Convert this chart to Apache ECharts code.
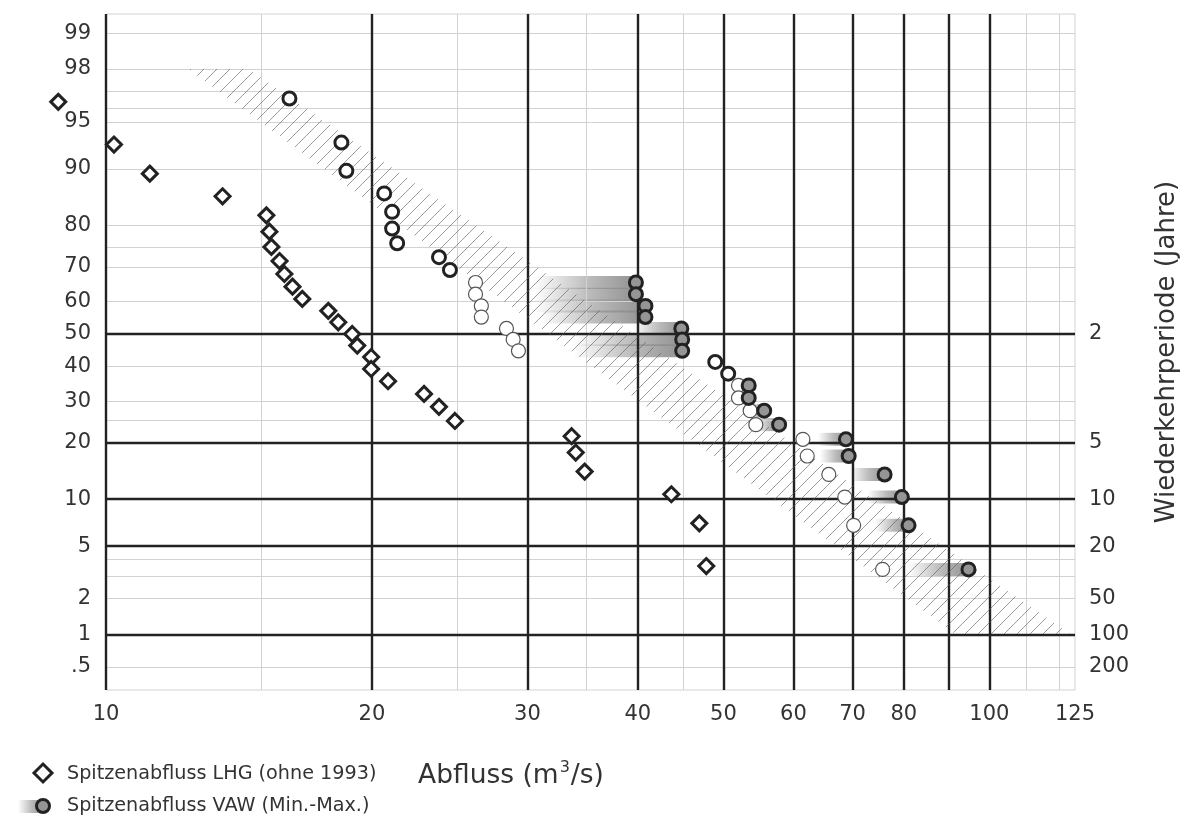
<!DOCTYPE html>
<html><head><meta charset="utf-8">
<script src="https://cdn.jsdelivr.net/npm/echarts@6/dist/echarts.min.js"></script>
<style>html,body{margin:0;padding:0;background:#fff}#c{width:1188px;height:825px}</style>
</head><body><div id="c"></div>
<script>
// ---- tick labels & grid values ----
const xTickLabels = [10, 20, 30, 40, 50, 60, 70, 80, 100, 125];
const xMajorGrid = [10, 20, 30, 40, 50, 60, 70, 80, 90, 100];
const xMinorGrid = [15, 25, 35, 45, 110, 120];
const yLeftTickValues = [99, 98, 95, 90, 80, 70, 60, 50, 40, 30, 20, 10, 5, 2, 1, 0.5];
const yLeftTickLabels = ['99', '98', '95', '90', '80', '70', '60', '50', '40', '30', '20', '10', '5', '2', '1', '.5'];
const yRightTickValues = [2, 5, 10, 20, 50, 100, 200];      // return period (years)
const yRightTickLabels = ['2', '5', '10', '20', '50', '100', '200'];
const yMajorGrid = [50, 20, 10, 5, 1];
const yMinorGrid = [99, 98, 97, 96, 95, 90, 80, 75, 70, 60, 40, 30, 25, 4, 3, 2, 0.5];

// ---- Spitzenabfluss LHG (ohne 1993): discharge m3/s, exceedance % ----
const lhgQ = [8.83, 10.21, 11.21, 13.55, 15.19, 15.31, 15.39, 15.72, 15.92, 16.26, 16.68, 17.85, 18.32, 19.00,
  19.25, 19.96, 19.96, 20.86, 22.91, 23.82, 24.83, 33.66, 34.02, 34.82, 43.65, 46.95, 47.81];
const lhgP = [96.4, 92.9, 89.3, 85.7, 82.1, 78.6, 75.0, 71.4, 67.9, 64.3, 60.7, 57.1, 53.6, 50.0,
  46.4, 42.9, 39.3, 35.7, 32.1, 28.6, 25.0, 21.4, 17.9, 14.3, 10.7, 7.1, 3.6];

// ---- open circles (single values) ----
const openQ = [16.13, 18.47, 18.71, 20.65, 21.08, 21.08, 21.36, 23.82, 24.51, 48.94, 50.62];
const openP = [96.6, 93.1, 89.7, 86.2, 82.8, 79.3, 75.9, 72.4, 69.0, 41.4, 37.9];

// ---- VAW (min-max) levels ----
const vawP    = [65.5, 62.1, 58.6, 55.2, 51.7, 48.3, 44.8, 34.5, 31.0, 27.6, 24.1, 20.7, 17.2, 13.8, 10.3, 6.9, 3.4];
const lightQ  = [26.2, 26.2, 26.6, 26.6, 28.4, 28.9, 29.3, 52.0, 52.0, 53.6, 54.4, 61.5, 62.2, 65.8, 68.6, 70.2, 75.7];
const vawMinQ = [30.5, 30.5, 30.5, 31.0, 39.5, 33.8, 33.8, 52.0, 52.0, 53.6, 54.4, 64.0, 64.3, 69.5, 72.8, 74.2, 80.8];
const vawMaxQ = [39.8, 39.8, 40.8, 40.8, 44.8, 44.9, 44.9, 53.4, 53.4, 55.6, 57.8, 68.8, 69.3, 76.1, 79.6, 81.0, 94.7];

// ---- hatched band (corner points) ----
const bandQ = [12.4, 14.5, 123.4, 91.5];
const bandP = [98, 98, 1, 1];

// inverse standard normal (probability paper scale)
function invNorm(p) {
  const a = [-3.969683028665376e+01, 2.209460984245205e+02, -2.759285104469687e+02, 1.383577518672690e+02, -3.066479806614716e+01, 2.506628277459239e+00];
  const b = [-5.447609879822406e+01, 1.615858368580409e+02, -1.556989798598866e+02, 6.680131188771972e+01, -1.328068155288572e+01];
  const c = [-7.784894002430293e-03, -3.223964580411365e-01, -2.400758277161838e+00, -2.549732539343734e+00, 4.374664141464968e+00, 2.938163982698783e+00];
  const d = [7.784695709041462e-03, 3.224671290700398e-01, 2.445134137142996e+00, 3.754408661907416e+00];
  const pl = 0.02425, ph = 1 - pl;
  let q, r;
  if (p < pl) { q = Math.sqrt(-2 * Math.log(p)); return (((((c[0]*q+c[1])*q+c[2])*q+c[3])*q+c[4])*q+c[5]) / ((((d[0]*q+d[1])*q+d[2])*q+d[3])*q+1); }
  if (p <= ph) { q = p - 0.5; r = q*q; return (((((a[0]*r+a[1])*r+a[2])*r+a[3])*r+a[4])*r+a[5])*q / (((((b[0]*r+b[1])*r+b[2])*r+b[3])*r+b[4])*r+1); }
  q = Math.sqrt(-2 * Math.log(1 - p));
  return -(((((c[0]*q+c[1])*q+c[2])*q+c[3])*q+c[4])*q+c[5]) / ((((d[0]*q+d[1])*q+d[2])*q+d[3])*q+1);
}
const U = pct => invNorm(pct / 100);

const FONT = 'DejaVu Sans';
const TXT = '#333';
const leftU = yLeftTickValues.map(U);
const rightU = yRightTickValues.map(T => U(100 / T));
function lookup(v, us, labels) {
  for (let i = 0; i < us.length; i++) if (Math.abs(us[i] - v) < 1e-6) return labels[i];
  return '';
}

// hatch pattern
const tile = 13;
const pc = document.createElement('canvas');
pc.width = tile; pc.height = tile;
const g = pc.getContext('2d');
g.strokeStyle = 'rgba(90,90,90,0.6)';
g.lineWidth = 1;
g.beginPath();
g.moveTo(0, tile); g.lineTo(tile, 0);
g.moveTo(-tile / 2, tile / 2); g.lineTo(tile / 2, -tile / 2);
g.moveTo(tile / 2, tile * 1.5); g.lineTo(tile * 1.5, tile / 2);
g.stroke();

const thick = { color: '#222', width: 2.4, type: 'solid' };
const thin = { color: '#d2d2d2', width: 1, type: 'solid' };
const gridLines = []
  .concat(xMinorGrid.map(v => ({ xAxis: v, lineStyle: thin })))
  .concat(yMinorGrid.map(p => ({ yAxis: U(p), lineStyle: thin })))
  .concat(xMajorGrid.map(v => ({ xAxis: v, lineStyle: thick })))
  .concat(yMajorGrid.map(p => ({ yAxis: U(p), lineStyle: thick })));

const barGrad = () => new echarts.graphic.LinearGradient(0, 0, 1, 0, [
  { offset: 0, color: 'rgba(140,140,140,0)' },
  { offset: 0.55, color: 'rgba(140,140,140,0.6)' },
  { offset: 1, color: 'rgba(140,140,140,0.95)' }
]);

const chart = echarts.init(document.getElementById('c'), null, { renderer: 'canvas' });
chart.setOption({
  animation: false,
  backgroundColor: '#fff',
  textStyle: { fontFamily: FONT },
  grid: { left: 106, right: 110, top: 14, bottom: 135, show: true, borderColor: '#d2d2d2', borderWidth: 1 },
  xAxis: {
    type: 'log', logBase: 10, min: 10, max: 125,
    axisLine: { show: false }, axisTick: { show: false },
    splitLine: { show: false }, minorSplitLine: { show: false },
    axisLabel: { customValues: xTickLabels, formatter: v => String(Math.round(v)),
      fontSize: 21, color: TXT, fontFamily: FONT, margin: 14 }
  },
  yAxis: [{
    type: 'value', min: -2.76, max: 2.48, position: 'left',
    axisLine: { show: false }, axisTick: { show: false }, splitLine: { show: false },
    axisLabel: { customValues: leftU, formatter: v => lookup(v, leftU, yLeftTickLabels),
      fontSize: 21, color: TXT, fontFamily: FONT, margin: 15 }
  }, {
    type: 'value', min: -2.76, max: 2.48, position: 'right',
    name: 'Wiederkehrperiode (Jahre)', nameLocation: 'middle', nameGap: 79,
    nameTextStyle: { fontSize: 26, color: TXT, fontFamily: FONT },
    axisLine: { show: false }, axisTick: { show: false }, splitLine: { show: false },
    axisLabel: { customValues: rightU, formatter: v => lookup(v, rightU, yRightTickLabels),
      fontSize: 21, color: TXT, fontFamily: FONT, margin: 14 }
  }],
  series: [
    {
      name: 'VAW Min-Max', type: 'custom', z: 1, silent: true,
      data: vawP.map((p, i) => [vawMinQ[i], vawMaxQ[i], U(p)]),
      encode: { x: [0, 1], y: 2 },
      renderItem: (params, api) => {
        const s = api.coord([api.value(0), api.value(2)]);
        const e = api.coord([api.value(1), api.value(2)]);
        const h = 13;
        return { type: 'rect', shape: { x: s[0], y: s[1] - h / 2, width: Math.max(0, e[0] - s[0]), height: h },
          style: { fill: barGrad() } };
      }
    },
    {
      name: 'Band', type: 'custom', z: 3, silent: true,
      data: [[bandQ[0], U(bandP[0]), bandQ[1], U(bandP[1]), bandQ[2], U(bandP[2]), bandQ[3], U(bandP[3])]],
      encode: { x: [0, 2, 4, 6], y: [1, 3, 5, 7] },
      renderItem: (params, api) => {
        const pts = [0, 1, 2, 3].map(k => api.coord([api.value(2 * k), api.value(2 * k + 1)]));
        return { type: 'polygon', shape: { points: pts }, style: { fill: { image: pc, repeat: 'repeat' }, stroke: null } };
      }
    },
    {
      name: 'Light', type: 'scatter', z: 4, silent: true,
      data: lightQ.map((q, i) => [q, U(vawP[i])]),
      symbol: 'circle', symbolSize: 14,
      itemStyle: { color: '#fff', borderColor: '#555', borderWidth: 1.2, opacity: 1 }
    },
    {
      name: 'Open', type: 'scatter', z: 5, silent: true,
      data: openQ.map((q, i) => [q, U(openP[i])]),
      symbol: 'circle', symbolSize: 13,
      itemStyle: { color: '#fff', borderColor: '#222', borderWidth: 3, opacity: 1 }
    },
    {
      name: 'Spitzenabfluss VAW (Min.-Max.)', type: 'scatter', z: 6, silent: true,
      data: vawMaxQ.map((q, i) => [q, U(vawP[i])]),
      symbol: 'circle', symbolSize: 13,
      itemStyle: { color: '#959595', borderColor: '#222', borderWidth: 3, opacity: 1 }
    },
    {
      name: 'Spitzenabfluss LHG (ohne 1993)', type: 'scatter', z: 5, silent: true, clip: false,
      data: lhgQ.map((q, i) => [q, U(lhgP[i])]),
      symbol: 'diamond', symbolSize: 15,
      itemStyle: { color: '#fff', borderColor: '#222', borderWidth: 3, opacity: 1 },
      markLine: {
        silent: true, z: 2, symbol: ['none', 'none'], label: { show: false },
        emphasis: { disabled: true }, animation: false,
        data: gridLines
      }
    }
  ],
  graphic: [
    { type: 'polygon', z: 10, shape: { points: [[43, 764], [52, 773], [43, 782], [34, 773]] },
      style: { fill: '#fff', stroke: '#222', lineWidth: 3 } },
    { type: 'text', z: 10, x: 67, y: 774,
      style: { text: 'Spitzenabfluss LHG (ohne 1993)', fontSize: 19.2, fontFamily: FONT, fill: TXT, verticalAlign: 'middle' } },
    { type: 'rect', z: 10, shape: { x: 18, y: 800, width: 25, height: 13 }, style: { fill: barGrad() } },
    { type: 'circle', z: 11, shape: { cx: 43, cy: 806, r: 6.5 }, style: { fill: '#959595', stroke: '#222', lineWidth: 3 } },
    { type: 'text', z: 10, x: 67, y: 806,
      style: { text: 'Spitzenabfluss VAW (Min.-Max.)', fontSize: 19.2, fontFamily: FONT, fill: TXT, verticalAlign: 'middle' } },
    { type: 'text', z: 10, x: 418, y: 776,
      style: { text: 'Abfluss (m{s|3}/s)', fontSize: 26.5, fontFamily: FONT, fill: TXT, verticalAlign: 'middle', lineHeight: 32,
        rich: { s: { fontSize: 16, fontFamily: FONT, fill: TXT, verticalAlign: 'top', lineHeight: 32, padding: [0, 1, 0, 1] } } } }
  ]
});
</script>
</body></html>
